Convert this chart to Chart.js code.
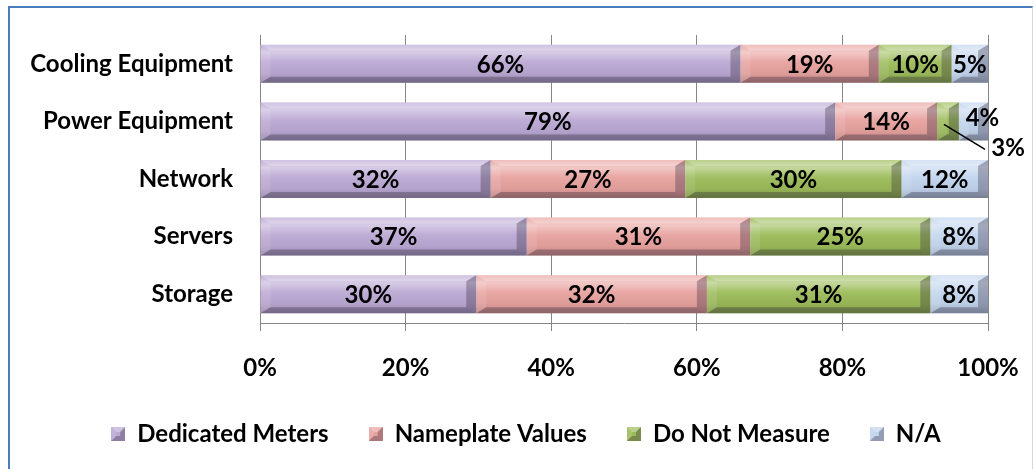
<!DOCTYPE html>
<html>
<head>
<meta charset="utf-8">
<script src="https://cdn.jsdelivr.net/npm/chart.js@4.4.0/dist/chart.umd.min.js"></script>
<style>
  html, body { margin: 0; padding: 0; background: #fff; }
  #wrap { position: relative; width: 1034px; height: 469px; overflow: hidden; }
  #frame { position: absolute; left: 8px; top: 6px; width: 1022px; height: 470px;
           border-left: 2px solid #4a7ebb; border-top: 2px solid #4a7ebb; border-right: 1px solid #d3d7dd; }
  canvas { position: absolute; left: 0; top: 0; }
</style>
</head>
<body>
<div id="wrap">
  <div id="frame"></div>
  <canvas id="chart" width="1034" height="469"></canvas>
</div>
<script>
const categories = ['Cooling Equipment', 'Power Equipment', 'Network', 'Servers', 'Storage'];
const seriesNames = ['Dedicated Meters', 'Nameplate Values', 'Do Not Measure', 'N/A'];
const dedicatedMeters = [66, 79, 32, 37, 30];
const nameplateValues = [19, 14, 27, 31, 32];
const doNotMeasure = [10, 3, 30, 25, 31];
const notApplicable = [5, 4, 12, 8, 8];
const xTicks = [0, 20, 40, 60, 80, 100];

const seriesValues = [dedicatedMeters, nameplateValues, doNotMeasure, notApplicable];
const colors = ['#bba9d4', '#e8a3a0', '#9cbc5a', '#c2d5ee'];

// each row is shown as share of its own total (100% stacked)
const totals = categories.map((_, i) => seriesValues.reduce((s, arr) => s + arr[i], 0));
const asShare = arr => arr.map((v, i) => v / totals[i] * 100);

const FONT = { family: 'Lato, "Open Sans", sans-serif', size: 24, weight: 'bold' };
const CSS_FONT = 'bold 24px Lato, "Open Sans", sans-serif';

// raised-edge look: light top/left, dark bottom/right
function bevel(ctx, x0, x1, y0, y1, bh, bv) {
  bh = Math.min(bh, (x1 - x0) / 2);
  bv = Math.min(bv, (y1 - y0) / 2);
  const poly = (pts, fill) => {
    ctx.beginPath();
    ctx.moveTo(pts[0][0], pts[0][1]);
    pts.slice(1).forEach(p => ctx.lineTo(p[0], p[1]));
    ctx.closePath();
    ctx.fillStyle = fill;
    ctx.fill();
  };
  poly([[x0, y0], [x1, y0], [x1 - bh, y0 + bv], [x0 + bh, y0 + bv]], 'rgba(255,255,255,0.30)');
  poly([[x0, y1], [x1, y1], [x1 - bh, y1 - bv], [x0 + bh, y1 - bv]], 'rgba(40,30,50,0.32)');
  poly([[x0, y0], [x0 + bh, y0 + bv], [x0 + bh, y1 - bv], [x0, y1]], 'rgba(255,255,255,0.10)');
  poly([[x1, y0], [x1 - bh, y0 + bv], [x1 - bh, y1 - bv], [x1, y1]], 'rgba(40,30,50,0.30)');
}

function swatch(color) {
  const c = document.createElement('canvas');
  c.width = 14; c.height = 14;
  const g = c.getContext('2d');
  g.fillStyle = color;
  g.fillRect(0, 0, 14, 14);
  bevel(g, 0, 14, 0, 14, 5, 5);
  return c;
}
const swatches = colors.map(swatch);

const bevelPlugin = {
  id: 'bevelBars',
  afterDatasetsDraw(chart) {
    const ctx = chart.ctx;
    ctx.save();
    chart.data.datasets.forEach((ds, di) => {
      chart.getDatasetMeta(di).data.forEach(bar => {
        const x0 = Math.min(bar.base, bar.x), x1 = Math.max(bar.base, bar.x);
        const y0 = bar.y - bar.height / 2, y1 = bar.y + bar.height / 2;
        const grad = ctx.createLinearGradient(0, y0, 0, y1);
        grad.addColorStop(0, 'rgba(255,255,255,0)');
        grad.addColorStop(0.2, 'rgba(255,255,255,0.40)');
        grad.addColorStop(0.45, 'rgba(255,255,255,0.05)');
        grad.addColorStop(0.75, 'rgba(0,0,0,0.04)');
        grad.addColorStop(1, 'rgba(0,0,0,0.18)');
        ctx.fillStyle = grad;
        ctx.fillRect(x0, y0, x1 - x0, y1 - y0);
        bevel(ctx, x0, x1, y0, y1, 10, 6);
      });
    });
    ctx.restore();
  }
};

const valueLabels = {
  id: 'valueLabels',
  afterDatasetsDraw(chart) {
    const ctx = chart.ctx;
    const right = chart.chartArea.right;
    ctx.save();
    ctx.font = CSS_FONT;
    ctx.fillStyle = '#000';
    ctx.textAlign = 'center';
    ctx.textBaseline = 'middle';
    chart.data.datasets.forEach((ds, di) => {
      chart.getDatasetMeta(di).data.forEach((bar, i) => {
        const text = seriesValues[di][i] + '%';
        const w = Math.abs(bar.x - bar.base);
        const cx = (bar.x + bar.base) / 2;
        if (w < 25) {
          // too thin: callout to the right of the bar with a leader line
          ctx.beginPath();
          ctx.moveTo(cx - 4, bar.y + 3);
          ctx.lineTo(right - 3, bar.y + 28);
          ctx.strokeStyle = '#000';
          ctx.lineWidth = 1.5;
          ctx.stroke();
          ctx.fillText(text, right + 20, bar.y + 27);
        } else if (w < 32) {
          ctx.fillText(text, cx + 9, bar.y - 3);
        } else {
          ctx.fillText(text, cx, bar.y + 1);
        }
      });
    });
    ctx.restore();
  }
};

// legend sits a little right of the canvas centre
const legendShift = {
  id: 'legendShift',
  afterLayout(chart, args, opts) {
    chart.legend.left += opts.dx;
    chart.legend.right += opts.dx;
  }
};

new Chart(document.getElementById('chart'), {
  type: 'bar',
  data: {
    labels: categories,
    datasets: seriesValues.map((arr, i) => ({
      label: seriesNames[i],
      data: asShare(arr),
      backgroundColor: colors[i],
      borderWidth: 0,
      barPercentage: 0.66,
      categoryPercentage: 1
    }))
  },
  options: {
    indexAxis: 'y',
    responsive: false,
    animation: false,
    layout: { padding: { top: 35, right: 46, bottom: 13, left: 0 } },
    scales: {
      x: {
        stacked: true,
        min: 0,
        max: 100,
        afterBuildTicks: s => { s.ticks = xTicks.map(v => ({ value: v })); },
        ticks: { callback: v => v + '%', font: FONT, color: '#000', padding: 23, maxRotation: 0 },
        grid: { color: '#868686', tickLength: 8 },
        border: { color: '#868686' },
        afterFit: s => { s.height = 59; s.paddingLeft = 0; s.paddingRight = 0; }
      },
      y: {
        stacked: true,
        grid: { display: false, drawTicks: false },
        border: { display: true, color: '#868686' },
        ticks: { font: FONT, color: '#000', padding: 27 },
        afterFit: s => { s.width = 260; s.paddingTop = 0; s.paddingBottom = 0; }
      }
    },
    plugins: {
      tooltip: { enabled: false },
      legendShift: { dx: 32 },
      legend: {
        position: 'bottom',
        labels: {
          usePointStyle: true,
          boxWidth: 14,
          boxHeight: 14,
          padding: 40,
          color: '#000',
          font: FONT,
          generateLabels: chart => chart.data.datasets.map((ds, i) => ({
            text: ds.label,
            fillStyle: colors[i],
            strokeStyle: colors[i],
            lineWidth: 0,
            pointStyle: swatches[i],
            hidden: false,
            datasetIndex: i
          }))
        }
      }
    }
  },
  plugins: [bevelPlugin, valueLabels, legendShift]
});
</script>
</body>
</html>
